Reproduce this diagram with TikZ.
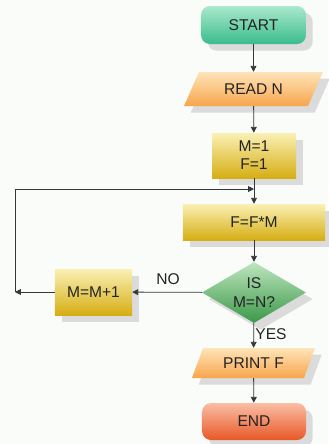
\documentclass[tikz,border=0pt]{standalone}
\usepackage{fontspec}
\setmainfont{Liberation Sans}
\usetikzlibrary{shapes.geometric,shadows,arrows.meta}

\definecolor{paper}{RGB}{250,252,250}
\definecolor{ink}{RGB}{35,35,35}
\definecolor{wire}{RGB}{55,55,55}
\definecolor{startA}{RGB}{170,232,205}
\definecolor{startB}{RGB}{58,188,140}
\definecolor{endA}{RGB}{250,190,165}
\definecolor{endB}{RGB}{232,88,38}
\definecolor{ioA}{RGB}{253,228,185}
\definecolor{ioB}{RGB}{248,165,75}
\definecolor{procA}{RGB}{250,240,180}
\definecolor{procB}{RGB}{214,174,20}
\definecolor{testA}{RGB}{190,230,190}
\definecolor{testB}{RGB}{58,152,72}

\begin{document}
\begin{tikzpicture}[x=0.03cm,y=-0.03cm,
    every node/.style={font=\fontsize{13.3}{15.5}\selectfont, text=ink, align=center, inner sep=0pt},
    box/.style={drop shadow={shadow xshift=0.2cm, shadow yshift=-0.2cm, fill=black!14, opacity=1}},
    terminal/.style={box, rounded corners=0.27cm, minimum width=3.12cm},
    io/.style={box, top color=ioA, bottom color=ioB},
    proc/.style={box, rectangle, top color=procA, bottom color=procB},
    test/.style={box, diamond, aspect=1.7, top color=testA, bottom color=testB},
    flow/.style={draw=wire, line width=0.7pt, -{Triangle[length=5pt,width=5pt]}}]
  \useasboundingbox (0,0) rectangle (328,444);
  \fill[paper] (0,0) rectangle (328,444);

  % parallelograms
  \path[io] (184,106) -- (308,106) -- (323,72) -- (199,72) -- cycle;
  \path[io] (192,378) -- (304,378) -- (315,348) -- (203,348) -- cycle;

  % main column
  \node[terminal, top color=startA, bottom color=startB, minimum width=3.15cm, minimum height=1.14cm] (start) at (253.5,25) {START};
  \node[minimum width=3.7cm, minimum height=1.02cm] (read) at (253.5,89) {READ N};
  \node[proc, minimum width=2.52cm, minimum height=1.35cm] (init) at (254,155.5) {M=1\\F=1};
  \node[proc, minimum width=4.26cm, minimum height=1.08cm] (mult) at (254,222) {F=F*M};
  \node[test, minimum width=3.12cm, minimum height=1.83cm] (check) at (254,292.5) {IS\\M=N?};
  \node[minimum width=3.36cm, minimum height=0.9cm] (print) at (253.5,363) {PRINT F};
  \node[terminal, top color=endA, bottom color=endB, minimum height=1.11cm] (end) at (254,421.5) {END};

  % loop back
  \node[proc, minimum width=2.31cm, minimum height=1.38cm] (inc) at (93.5,292) {M=M+1};
  \coordinate (back) at (15,292);
  \coordinate (join) at (254,189);

  \draw[flow] (start) -- (read);
  \draw[flow] (read) -- (init);
  \draw[flow] (init) -- (mult);
  \draw[flow] (mult) -- (check);
  \draw[flow] (check) -- (print);
  \draw[flow] (print) -- (end);
  \draw[flow] (check) -- (inc);
  \draw[flow] (inc) -- (back);
  \draw[flow] (back) |- (join);

  \node (no) at (168,279) {NO};
  \node (yes) at (271,334) {YES};
\end{tikzpicture}
\end{document}
